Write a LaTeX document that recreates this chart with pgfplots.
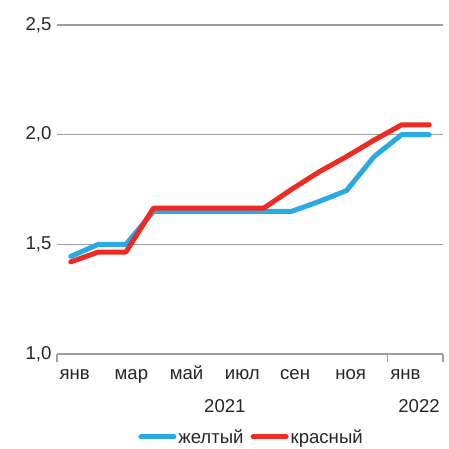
\documentclass[border=0pt]{standalone}
\usepackage{pgfplots}
\pgfplotsset{compat=1.18}
\usepackage{fontspec}
\setmainfont{Liberation Sans}
\definecolor{cblue}{HTML}{29ABE2}
\definecolor{cred}{HTML}{EE2A24}
\definecolor{gridc}{HTML}{9E9E9E}
\definecolor{txt}{HTML}{262626}
\begin{document}
\begin{tikzpicture}[font=\fontsize{18.6}{21}\selectfont]
\begin{axis}[
  name=ax,
  scale only axis,
  width=386pt, height=329pt,
  xmin=0, xmax=14, ymin=1, ymax=2.5,
  clip=false,
  axis line style={draw=none},
  tick pos=left,
  ytick={1,1.5,2,2.5},
  ymajorgrids=true, xmajorgrids=false,
  y grid style={gridc, line width=1.2pt},
  yticklabel style={text=txt, xshift=-2pt},
  xtick={0,2,4,6,8,10,12},
  xticklabels={янв,мар,май,июл,сен,ноя,янв},
  xticklabel style={anchor=base west, xshift=-1pt, yshift=-26pt, text=txt},
  major tick length=0pt,
  extra x ticks={0,12,14},
  extra x tick labels={},
  extra x tick style={major tick length=8pt, tick align=outside, tick style={gridc, line width=1.2pt}, xmajorgrids=false},
  /pgf/number format/assume math mode=true,
  /pgf/number format/.cd, use comma, fixed, fixed zerofill, precision=1,
  /pgfplots/.cd,
  legend style={at={(0.504,-0.252)}, anchor=center, draw=none, legend columns=2,
    /tikz/every even column/.append style={column sep=5pt}, text=txt},
  legend image code/.code={\draw[#1, line cap=round] (0cm,0cm) -- (33pt,0cm);},
]
\addplot[cblue, line width=5pt, line join=round, line cap=round] coordinates {
(0.5,1.445) (1.5,1.5) (2.5,1.5) (3.5,1.65) (4.5,1.65) (5.5,1.65) (6.5,1.65)
(7.5,1.65) (8.5,1.65) (9.5,1.695) (10.5,1.745) (11.5,1.9) (12.5,2.0) (13.5,2.0)};
\addlegendentry{желтый}
\addplot[cred, line width=5pt, line join=round, line cap=round] coordinates {
(0.5,1.42) (1.5,1.465) (2.5,1.465) (3.5,1.665) (4.5,1.665) (5.5,1.665) (6.5,1.665)
(7.5,1.665) (8.5,1.75) (9.5,1.83) (10.5,1.9) (11.5,1.975) (12.5,2.045) (13.5,2.045)};
\addlegendentry{красный}
\draw[gridc, line width=1.2pt] (axis cs:0,1) -- (axis cs:14,1);
\node[text=txt] at ([yshift=-52pt]axis cs:6.09,1) {2021};
\node[text=txt] at ([yshift=-52pt]axis cs:13.13,1) {2022};
\end{axis}
\path ([xshift=-57pt,yshift=-93pt]ax.south west) rectangle ([xshift=6pt,yshift=25pt]ax.north east);
\end{tikzpicture}
\end{document}
